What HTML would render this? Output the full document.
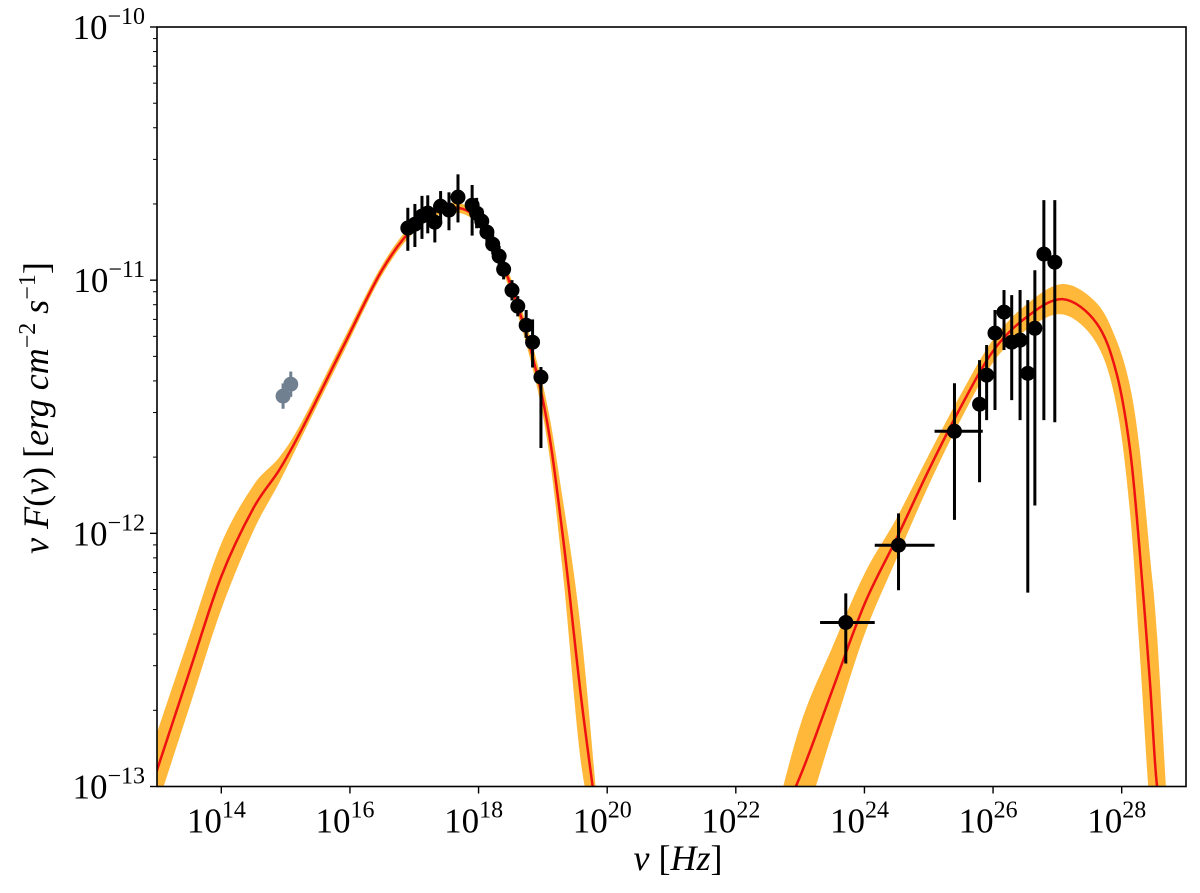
<!DOCTYPE html>
<html><head><meta charset="utf-8">
<style>
html,body{margin:0;padding:0;background:#fff;overflow:hidden;width:1200px;height:893px;}
svg{display:block;}
svg text{font-family:"Liberation Serif","DejaVu Serif",serif;fill:#000;}
</style></head>
<body>
<svg id="chart" width="1200" height="893" viewBox="0 0 1200 893" xmlns="http://www.w3.org/2000/svg">
<g id="bands"></g><g id="lines"></g><g id="pts"></g><g id="axes"></g>
<text x="678" y="870" font-size="36" font-style="italic" text-anchor="middle">ν <tspan font-style="normal">[</tspan>Hz<tspan font-style="normal">]</tspan></text>
<text transform="translate(48,408) rotate(-90)" font-size="36" font-style="italic" text-anchor="middle">ν F<tspan font-style="normal">(</tspan>ν<tspan font-style="normal">) [</tspan>erg cm<tspan dy="-13" font-size="24" font-style="normal">−2</tspan><tspan dy="13"> s</tspan><tspan dy="-13" font-size="24" font-style="normal">−1</tspan><tspan dy="13" font-style="normal">]</tspan></text>
</svg>
<script>
// ---- data (log10 units) ----
const syncLogNu=[16.90,17.01,17.12,17.21,17.32,17.41,17.54,17.68,17.90,17.97,18.05,18.13,18.22,18.32,18.39,18.52,18.61,18.74,18.84,18.97];
const syncLogF=[-10.794,-10.779,-10.747,-10.735,-10.771,-10.708,-10.723,-10.672,-10.704,-10.735,-10.767,-10.810,-10.858,-10.905,-10.957,-11.040,-11.103,-11.178,-11.245,-11.383];
const syncErrUp=[0.08,0.08,0.08,0.07,0.07,0.06,0.07,0.09,0.08,0.06,0.05,0.05,0.04,0.04,0.04,0.04,0.04,0.06,0.09,0.04];
const syncErrLo=[0.09,0.09,0.09,0.08,0.08,0.07,0.08,0.10,0.12,0.06,0.05,0.05,0.04,0.04,0.04,0.04,0.04,0.05,0.10,0.28];
const optLogNu=[14.96,15.08];
const optLogF=[-11.458,-11.411];
const optErr=[0.05,0.05];
const gamLogNu=[23.71,24.53,25.40,25.79,25.90,26.03,26.17,26.29,26.42,26.54,26.65,26.79,26.96];
const gamLogF=[-12.352,-12.047,-11.597,-11.490,-11.375,-11.209,-11.126,-11.245,-11.237,-11.368,-11.190,-10.897,-10.929];
const gamErrUp=[0.115,0.126,0.19,0.174,0.119,0.091,0.087,0.186,0.198,0.289,0.229,0.213,0.245];
const gamErrLo=[0.162,0.178,0.35,0.308,0.178,0.304,0.150,0.229,0.316,0.866,0.70,0.656,0.632];
const gamXLo=[23.31,24.16,25.09,null,null,null,null,null,null,null,null,null,null];
const gamXHi=[24.16,25.09,25.84,null,null,null,null,null,null,null,null,null,null];
const modelSyncNu=[12.8,13.5,14.0,14.5,14.9,15.25,15.9,16.5,17.0,17.5,18.0,18.5,19.0,19.3,19.6,19.9];
const modelSyncF=[-13.09,-12.55,-12.17,-11.90,-11.75,-11.59,-11.26,-10.96,-10.79,-10.715,-10.763,-11.02,-11.474,-11.99,-12.66,-13.7];
const modelSyncW=[0.15,0.14,0.13,0.09,0.05,0.03,0.025,0.02,0.02,0.02,0.02,0.03,0.06,0.14,0.26,0.35];
const modelIcNu=[22.5,23.0,23.5,24.0,24.5,25.0,25.5,26.0,26.5,27.08,27.61,27.92,28.13,28.28,28.44,28.55,28.72];
const modelIcF=[-13.45,-12.96,-12.62,-12.28,-12.02,-11.75,-11.50,-11.28,-11.15,-11.075,-11.17,-11.368,-11.67,-12.07,-12.59,-13.0,-13.8];
const modelIcW=[0.2,0.2,0.17,0.12,0.08,0.06,0.05,0.045,0.05,0.06,0.08,0.13,0.25,0.4,0.5,0.6,0.65];
const xTicks=[14,16,18,20,22,24,26,28];
const yTicks=[-13,-12,-11,-10];

// ---- axes ----
const X0=157,X1=1186,Y0=27,Y1=786.5,LX0=13,LX1=29,LY0=-13,LY1=-10;
const sx=v=>X0+(v-LX0)/(LX1-LX0)*(X1-X0);
const sy=v=>Y1-(v-LY0)/(LY1-LY0)*(Y1-Y0);
const syc=v=>Math.min(sy(v),Y1+60);
const NS='http://www.w3.org/2000/svg';
function mk(tag,attrs,parent){const e=document.createElementNS(NS,tag);for(const k in attrs)e.setAttribute(k,attrs[k]);parent.appendChild(e);return e;}
function segs(pts){let d='';for(let i=0;i<pts.length-1;i++){const p0=pts[Math.max(0,i-1)],p1=pts[i],p2=pts[i+1],p3=pts[Math.min(pts.length-1,i+2)];const c1=[p1[0]+(p2[0]-p0[0])/6,Math.min(p1[1]+(p2[1]-p0[1])/6,Y1+60)],c2=[p2[0]-(p3[0]-p1[0])/6,Math.min(p2[1]-(p3[1]-p1[1])/6,Y1+60)];d+=' C'+c1+' '+c2+' '+p2;}return d;}
function smooth(pts){return 'M'+pts[0]+segs(pts);}
const svg=document.getElementById('chart');
const bands=document.getElementById('bands'),lines=document.getElementById('lines'),pts=document.getElementById('pts'),axes=document.getElementById('axes');
const clip=mk('clipPath',{id:'clip'},svg);mk('rect',{x:X0,y:Y0,width:X1-X0,height:Y1-Y0},clip);
bands.setAttribute('clip-path','url(#clip)');lines.setAttribute('clip-path','url(#clip)');
function model(nu,f,w,name){
  const up=nu.map((v,i)=>[sx(v),syc(f[i]+w[i])]),lo=nu.map((v,i)=>[sx(v),syc(f[i]-w[i])]).reverse();
  const d=smooth(up)+' L'+lo[0]+segs(lo)+' Z';
  const b=mk('path',{d:d,fill:'#ffb83a',stroke:'none'},bands);
  
  
  const l=mk('path',{d:smooth(nu.map((v,i)=>[sx(v),syc(f[i])])),fill:'none',stroke:'#ee1111','stroke-width':2.5},lines);
  
  
}
model(modelSyncNu,modelSyncF,modelSyncW,'synchrotron-model');
model(modelIcNu,modelIcF,modelIcW,'inverse-compton-model');
function point(lx,ly,eu,el,col,name,xl,xh){
  const g=mk('g',{},pts);
  
  
  mk('line',{x1:sx(lx),x2:sx(lx),y1:sy(ly+eu),y2:sy(ly-el),stroke:col,'stroke-width':3},g);
  if(xl!=null)mk('line',{x1:sx(xl),x2:sx(xh),y1:sy(ly),y2:sy(ly),stroke:col,'stroke-width':3},g);
  mk('circle',{cx:sx(lx),cy:sy(ly),r:7.5,fill:col},g);
}
optLogNu.forEach((v,i)=>point(v,optLogF[i],optErr[i],optErr[i],'#708090','optical-point'));
syncLogNu.forEach((v,i)=>point(v,syncLogF[i],syncErrUp[i],syncErrLo[i],'#000','xray-point'));
gamLogNu.forEach((v,i)=>point(v,gamLogF[i],gamErrUp[i],gamErrLo[i],'#000','gamma-point',gamXLo[i],gamXHi[i]));
const fr=mk('rect',{x:X0,y:Y0,width:X1-X0,height:Y1-Y0,fill:'none',stroke:'#000','stroke-width':1.6},axes);

xTicks.forEach(t=>{
  mk('line',{x1:sx(t),x2:sx(t),y1:Y1,y2:Y1+7,stroke:'#000','stroke-width':1.4},axes);
  const tx=mk('text',{x:sx(t)-5,y:Y1+46,'font-size':35,'text-anchor':'middle'},axes);
  
  
  tx.innerHTML='10<tspan dy="-15" font-size="24">'+t+'</tspan>';
});
yTicks.forEach(t=>{
  mk('line',{x1:X0-7,x2:X0,y1:sy(t),y2:sy(t),stroke:'#000','stroke-width':1.4},axes);
  if(t<-10)for(let m=2;m<10;m++){const v=t+Math.log10(m);mk('line',{x1:X0-4,x2:X0,y1:sy(v),y2:sy(v),stroke:'#000','stroke-width':1},axes);}
  const tx=mk('text',{x:X0-12,y:sy(t)+12,'font-size':35,'text-anchor':'end'},axes);
  
  
  tx.innerHTML='10<tspan dy="-15" font-size="24">−'+(-t)+'</tspan>';
});
</script>
</body></html>
